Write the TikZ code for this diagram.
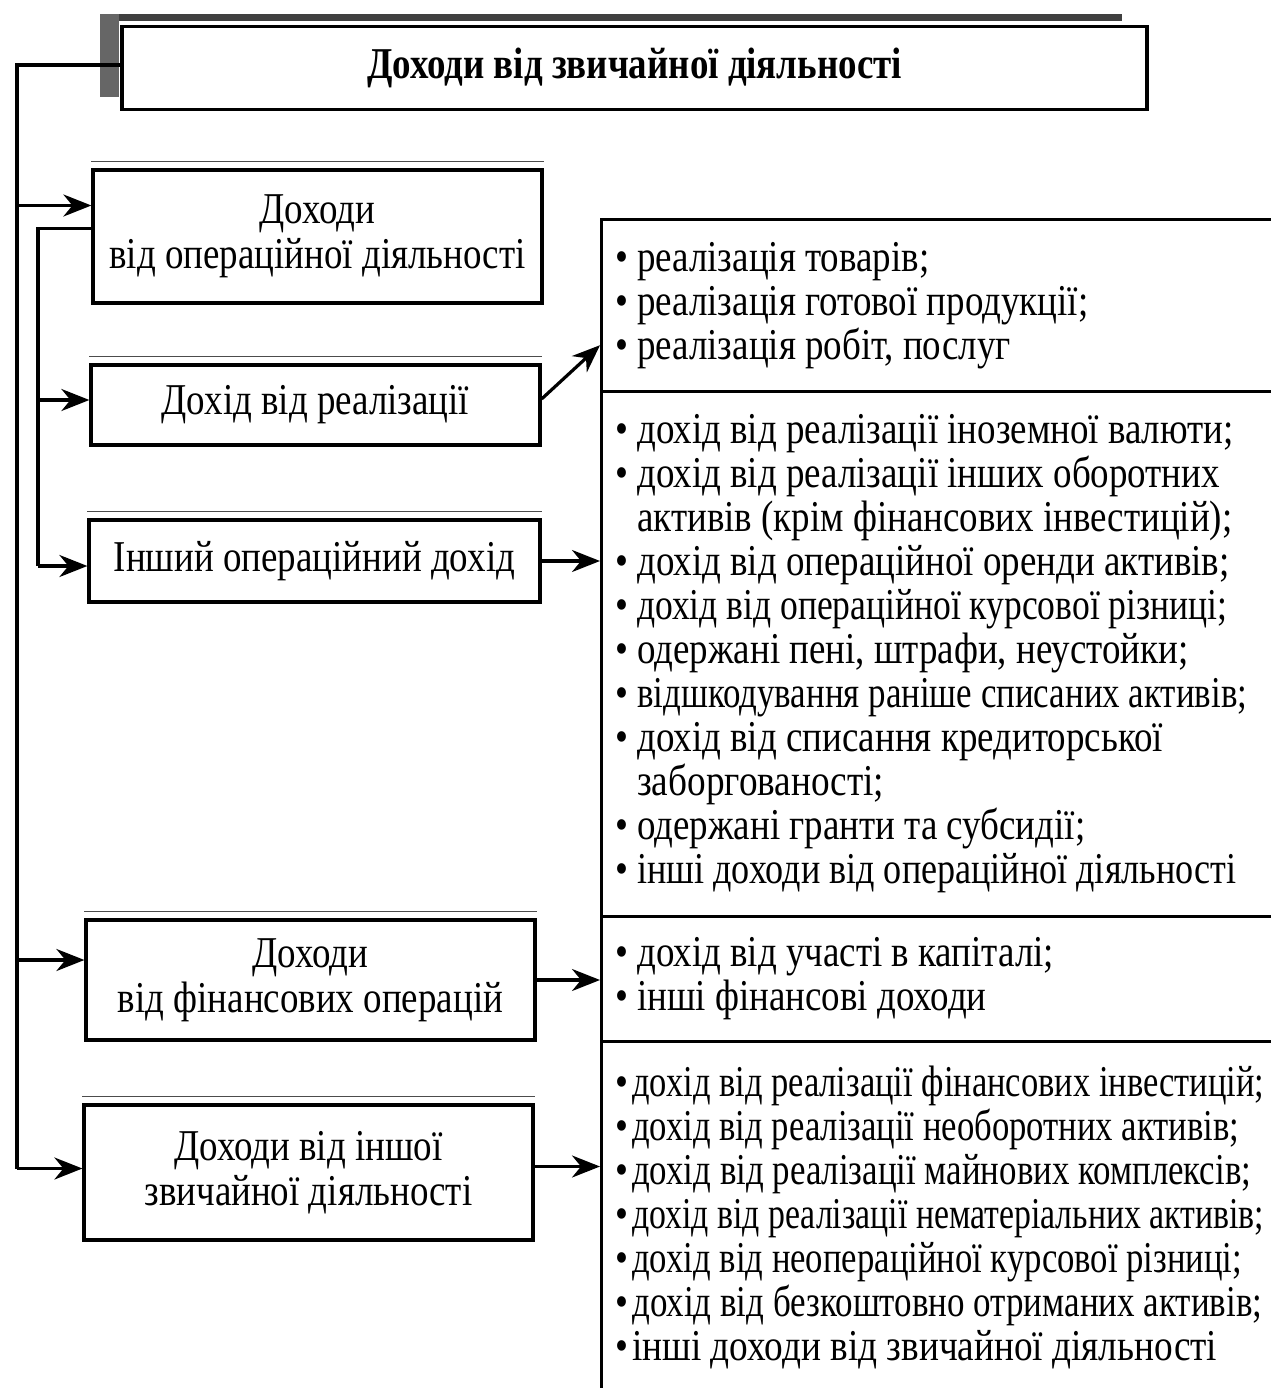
\documentclass[tikz,border=0pt]{standalone}
\usepackage{fontspec}
\usepackage{graphicx}
\setmainfont{Liberation Serif}[FakeStretch=0.84]
\usetikzlibrary{arrows.meta,calc}
% bullet line: #1 = bullet box width, #2 = text width (pt), #3 = text
\newcommand\bfit[3]{\makebox[#1pt][l]{•}\resizebox{#2pt}{\height}{#3}}
\newcommand\bnat[2]{\makebox[#1pt][l]{•}#2}
\begin{document}
\begin{tikzpicture}[x=1pt,y=-1pt,
  box/.style={draw, line width=3.2pt, inner sep=0pt, align=center,
    font=\fontsize{44}{45}\selectfont},
  rbox/.style={draw, line width=3.2pt, inner sep=0pt, anchor=north west, minimum width=720pt},
  list/.style={anchor=west, align=left, inner sep=0pt, font=\fontsize{44}{44}\selectfont},
  conn/.style={line width=3.2pt},
  arr/.style={conn, -{Stealth[length=28pt,width=22pt,inset=9pt]}},
  shade/.style={line width=1.4pt, black!70}
]
\useasboundingbox (0,0) rectangle (1270,1388);

% main box
\node[box, minimum width=1025pt, minimum height=83pt,
  font=\fontsize{44}{46}\selectfont\bfseries] (top) at (634.5,68)
  {Доходи від звичайної діяльності};
\fill[black!75] (100,14) rectangle (1122,21);
\fill[black!60] (100,14) rectangle (119,97);

% left boxes
\node[box, minimum width=449pt, minimum height=133pt] (b1) at (317.5,236.5)
  {Доходи\\від операційної діяльності};
\node[box, minimum width=449pt, minimum height=80pt] (b2) at (315.5,405)
  {Дохід від реалізації};
\node[box, minimum width=451pt, minimum height=82pt] (b3) at (314.5,561)
  {Інший операційний дохід};
\node[box, minimum width=449pt, minimum height=120pt] (b4) at (310.5,980)
  {Доходи\\від фінансових операцій};
\node[box, minimum width=449pt, minimum height=135pt] (b5) at (308.5,1172.5)
  {Доходи від іншої\\звичайної діяльності};

% scan shadow lines above left boxes
\draw[shade] ($(b1.north west)+(0,-7)$) -- ($(b1.north east)+(0,-7)$);
\draw[shade] ($(b2.north west)+(0,-7)$) -- ($(b2.north east)+(0,-7)$);
\draw[shade] ($(b3.north west)+(0,-7)$) -- ($(b3.north east)+(0,-7)$);
\draw[shade] ($(b4.north west)+(0,-7)$) -- ($(b4.north east)+(0,-7)$);
\draw[shade] ($(b5.north west)+(0,-7)$) -- ($(b5.north east)+(0,-7)$);

% right column
\node[rbox, minimum height=172pt] (r1) at (600,218) {};
\node[rbox, minimum height=525pt] (r2) at (600,390) {};
\node[rbox, minimum height=125pt] (r3) at (600,915) {};
\node[rbox, minimum height=352pt] (r4) at (600,1040) {};

\node[list] (t1) at ($(r1.west)+(15,0)$) {%
\bnat{22}{реалізація товарів;}\\
\bnat{22}{реалізація готової продукції;}\\
\bnat{22}{реалізація робіт, послуг}};
\node[list] (t2) at ($(r2.west)+(15,0)$) {%
\bnat{22}{дохід від реалізації іноземної валюти;}\\
\bnat{22}{дохід від реалізації інших оборотних}\\
\hspace*{22pt}активів (крім фінансових інвестицій);\\
\bnat{22}{дохід від операційної оренди активів;}\\
\bfit{22}{590}{дохід від операційної курсової різниці;}\\
\bnat{22}{одержані пені, штрафи, неустойки;}\\
\bfit{22}{610}{відшкодування раніше списаних активів;}\\
\bnat{22}{дохід від списання кредиторської}\\
\hspace*{22pt}\resizebox{247pt}{\height}{заборгованості;}\\
\bnat{22}{одержані гранти та субсидії;}\\
\bfit{22}{599}{інші доходи від операційної діяльності}};
\node[list] (t3) at ($(r3.west)+(15,0)$) {%
\bnat{22}{дохід від участі в капіталі;}\\
\bnat{22}{інші фінансові доходи}};
\node[list] (t4) at ($(r4.west)+(15,0)$) {%
\bfit{17}{632}{дохід від реалізації фінансових інвестицій;}\\
\bfit{17}{607}{дохід від реалізації необоротних активів;}\\
\bfit{17}{619}{дохід від реалізації майнових комплексів;}\\
\bfit{17}{632}{дохід від реалізації нематеріальних активів;}\\
\bfit{17}{610}{дохід від неопераційної курсової різниці;}\\
\bfit{17}{630}{дохід від безкоштовно отриманих активів;}\\
\bfit{17}{585}{інші доходи від звичайної діяльності}};

% connectors
\coordinate (trunk) at (17,0);
\coordinate (sub) at (38,0);
\coordinate (b1in) at ($(b1.west)+(0,-31)$);
\coordinate (b1out) at ($(b1.west)+(0,-8)$);
\coordinate (b2in) at ($(b2.west)+(0,-5)$);
\coordinate (b3in) at ($(b3.west)+(0,5)$);
\coordinate (b4in) at ($(b4.west)+(0,-20)$);
\coordinate (b5in) at ($(b5.west)+(0,-4)$);
\coordinate (r1in) at ($(r1.south west)+(0,-48)$);

\draw[conn] ($(top.west)+(0,-3)$) -| (trunk |- b5in);
\draw[arr] (trunk |- b1in) -- (b1in);
\draw[arr] (trunk |- b4in) -- (b4in);
\draw[arr] (trunk |- b5in) -- (b5in);
\draw[conn] (b1out) -| (sub |- b3in);
\draw[arr] (sub |- b2in) -- (b2in);
\draw[arr] (sub |- b3in) -- (b3in);

\draw[arr] ($(b2.east)+(0,-6)$) -- (r1in);
\draw[arr] (b3.east) -- (b3.east -| r2.west);
\draw[arr] (b4.east) -- (b4.east -| r3.west);
\draw[arr] ($(b5.east)+(0,-6)$) -- ($(b5.east -| r4.west)+(0,-6)$);
\end{tikzpicture}
\end{document}
